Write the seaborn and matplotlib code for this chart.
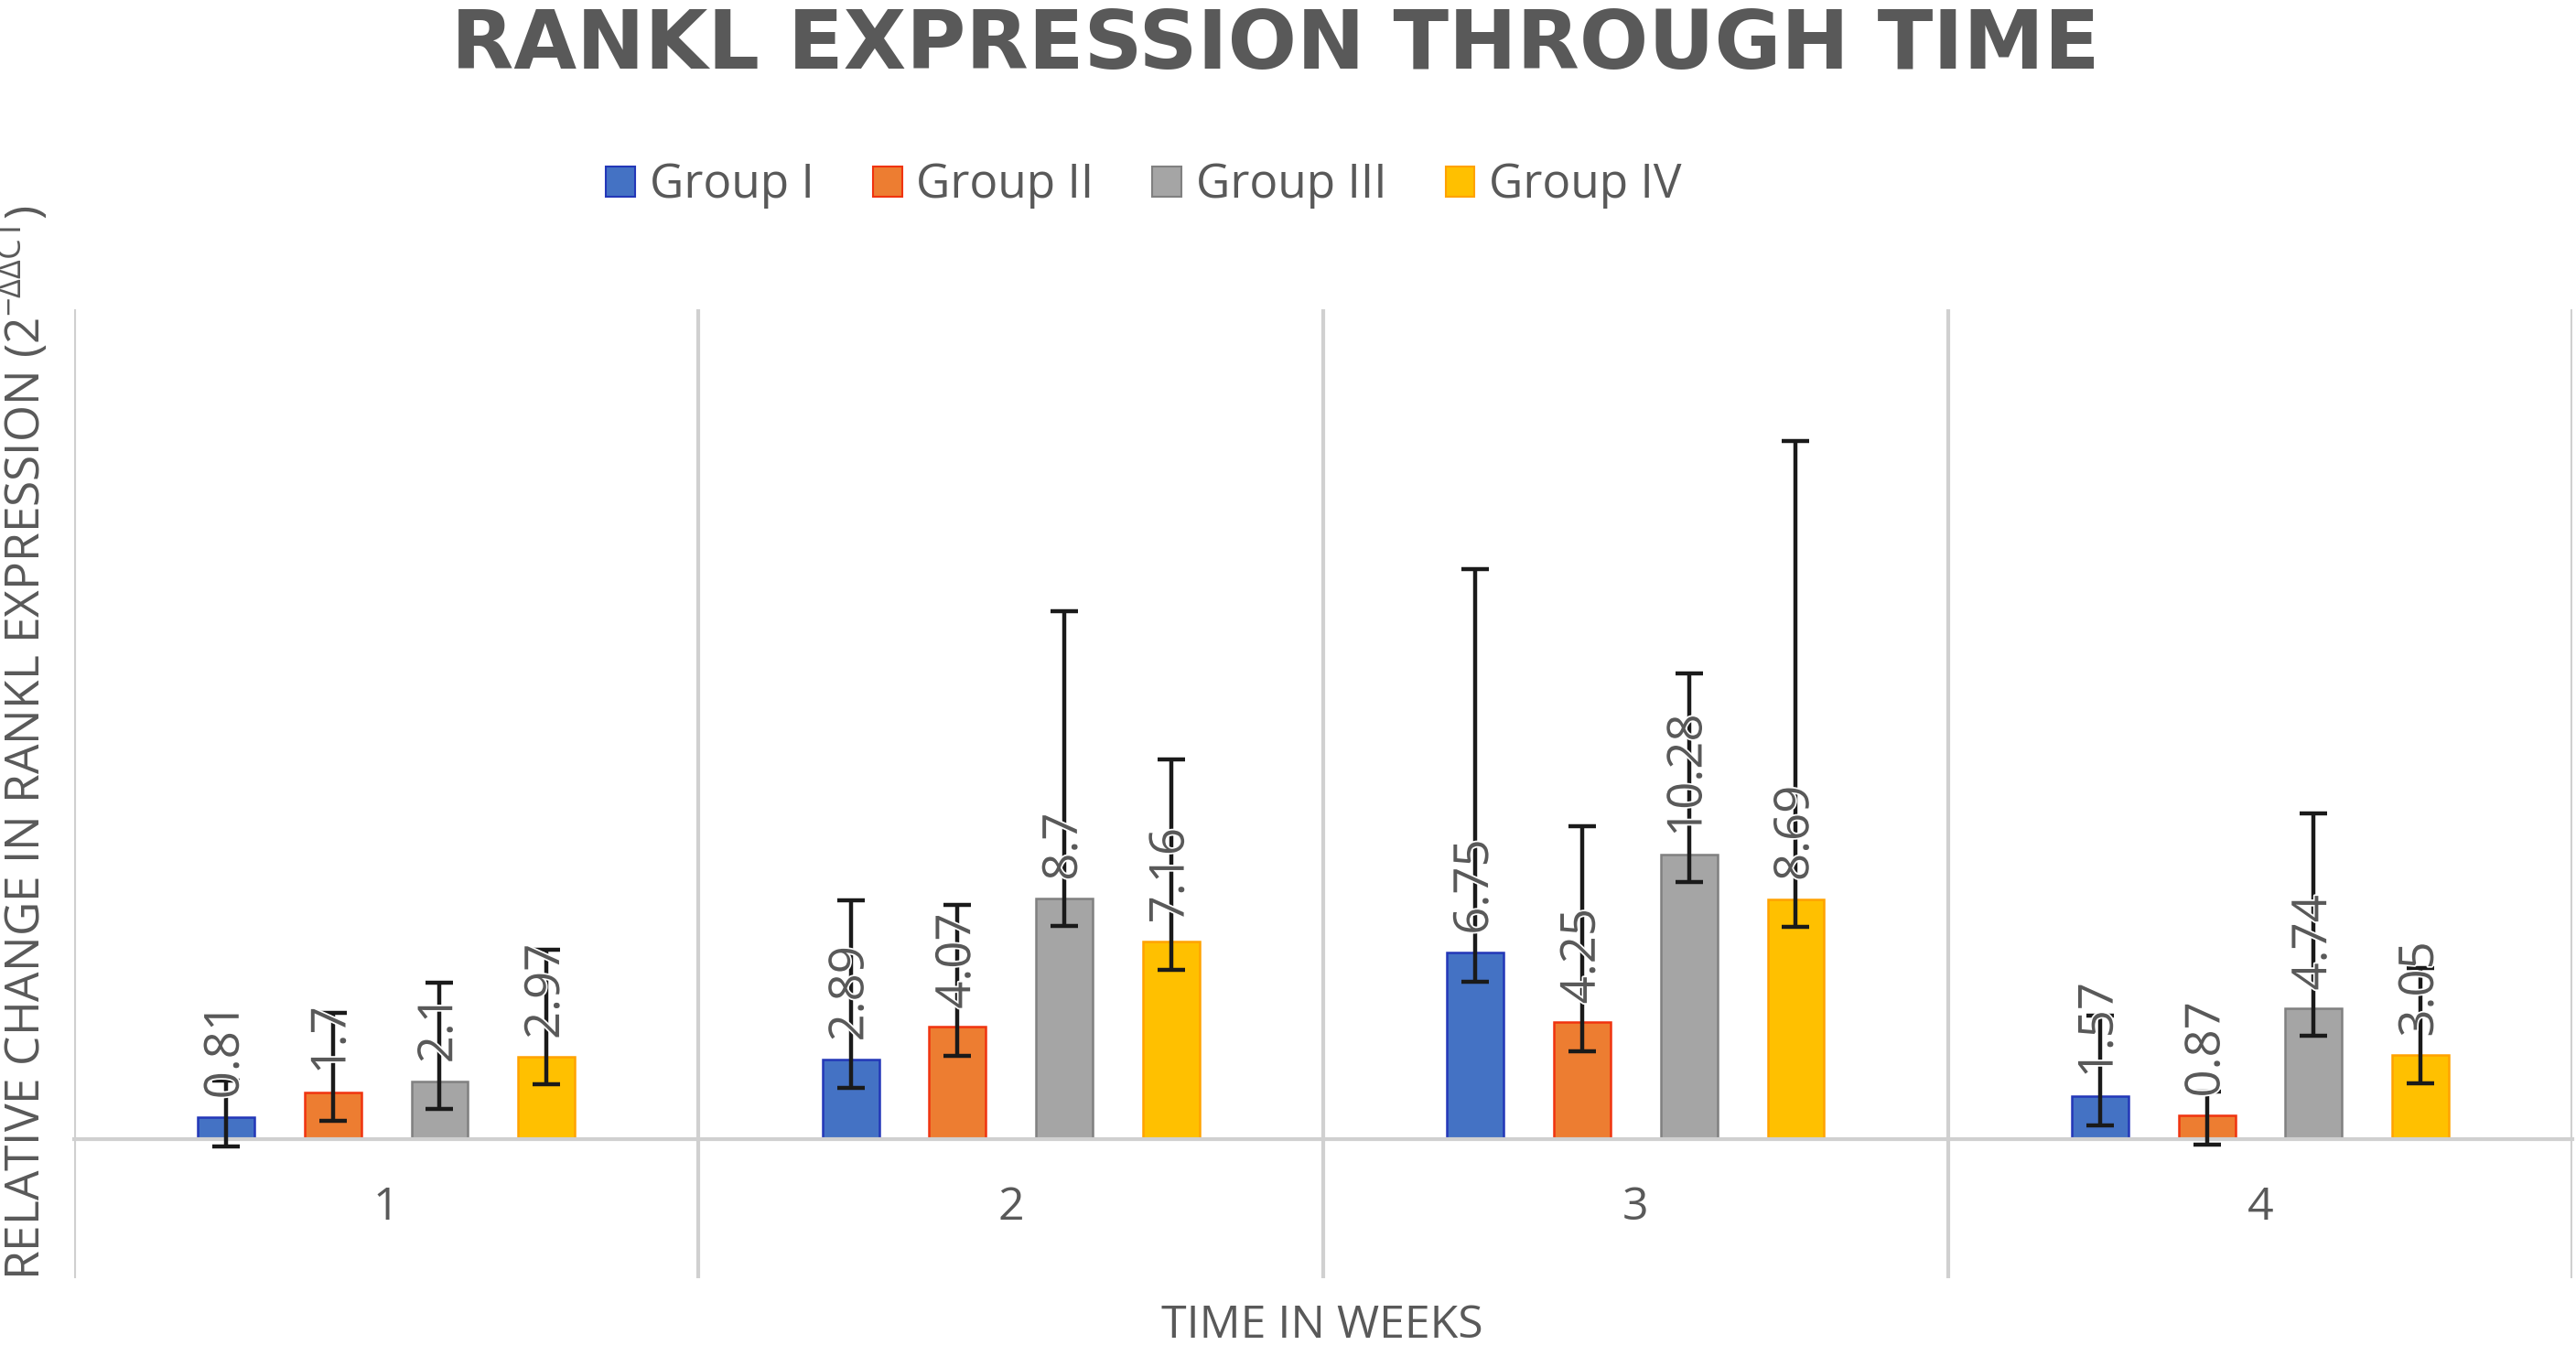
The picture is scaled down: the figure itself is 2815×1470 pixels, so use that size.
import matplotlib
matplotlib.use("Agg")
import matplotlib.pyplot as plt
import matplotlib.patheffects as pe
from matplotlib.patches import Patch
import numpy as np
import pandas as pd
import seaborn as sns

weeks = ["1", "2", "3", "4"]
groups = ["Group I", "Group II", "Group III", "Group IV"]

# mean relative change per group, weeks 1..4
group_i = [0.81, 2.89, 6.75, 1.57]
group_ii = [1.7, 4.07, 4.25, 0.87]
group_iii = [2.1, 8.7, 10.28, 4.74]
group_iv = [2.97, 7.16, 8.69, 3.05]

# error bars as drawn on the chart (below / above the mean)
err_minus_i = [1.05, 1.04, 1.06, 1.05]
err_plus_i = [1.3, 5.76, 13.85, 2.9]
err_minus_ii = [1.04, 1.06, 1.06, 1.06]
err_plus_ii = [2.86, 4.4, 7.08, 0.86]
err_minus_iii = [1.0, 1.0, 0.99, 0.99]
err_plus_iii = [3.55, 10.4, 6.56, 7.03]
err_minus_iv = [0.97, 1.03, 1.02, 1.03]
err_plus_iv = [3.9, 6.56, 16.55, 3.16]

fill_colors = ["#4472C4", "#ED7D31", "#A5A5A5", "#FFC000"]
edge_colors = ["#2337B8", "#F0330F", "#808080", "#FFA200"]
text_color = "#595959"
grid_color = "#D0D0D0"

values = [group_i, group_ii, group_iii, group_iv]
err_minus = [err_minus_i, err_minus_ii, err_minus_iii, err_minus_iv]
err_plus = [err_plus_i, err_plus_ii, err_plus_iii, err_plus_iv]

df = pd.DataFrame({
    "week": weeks * len(groups),
    "group": np.repeat(groups, len(weeks)),
    "value": np.concatenate(values),
})

sns.set_style("white")
plt.rcParams["font.family"] = ["Open Sans", "DejaVu Sans"]
plt.rcParams["mathtext.default"] = "regular"

fig = plt.figure(figsize=(28.15, 14.7), dpi=100)
ax = fig.add_axes([0.0287, 0.050, 0.970, 0.720])

sns.barplot(data=df, x="week", y="value", hue="group", order=weeks,
            hue_order=groups, palette=fill_colors, saturation=1,
            width=0.684, gap=0.47, errorbar=None, linewidth=1.8,
            legend=False, ax=ax)

for cont, ec, vals, lo, hi in zip(ax.containers, edge_colors, values,
                                  err_minus, err_plus):
    xs = []
    for bar in cont:
        bar.set_edgecolor(ec)
        xs.append(bar.get_x() + bar.get_width() / 2)
    ax.errorbar(xs, vals, yerr=[lo, hi], fmt="none", ecolor="#1a1a1a",
                elinewidth=3.2, capsize=10.5, capthick=3.2, zorder=3)
    for x, v in zip(xs, vals):
        ax.annotate(f"{v:g}", (x, v), xytext=(0, 14),
                    textcoords="offset points", rotation=90,
                    ha="center", va="bottom", fontsize=38,
                    color=text_color, zorder=4,
                    path_effects=[pe.withStroke(linewidth=2.5,
                                                foreground="white")])

ax.set_xlim(-0.5, 3.5)
ax.set_ylim(-5, 30)
ax.set_yticks([])
ax.set_xticks(np.arange(-0.5, len(weeks), 1), minor=True)
ax.grid(which="minor", axis="x", color=grid_color, linewidth=3)
ax.tick_params(axis="x", which="both", length=0, pad=36, labelsize=36,
               labelcolor=text_color)
for side in ["top", "left", "right"]:
    ax.spines[side].set_visible(False)
ax.spines["bottom"].set_position(("data", 0))
ax.spines["bottom"].set_color(grid_color)
ax.spines["bottom"].set_linewidth(3)
ax.set_xlabel("")
ax.set_ylabel("")

handles = [Patch(facecolor=fc, edgecolor=ec, linewidth=1.5)
           for fc, ec in zip(fill_colors, edge_colors)]
fig.legend(handles, groups, loc="center", bbox_to_anchor=(0.444, 0.862),
           ncol=4, frameon=False, fontsize=37, handlelength=0.62,
           handleheight=0.62, handletextpad=0.3, columnspacing=1.25,
           labelcolor=text_color)

fig.text(0.4952, 0.949, "RANKL EXPRESSION THROUGH TIME", ha="center",
         va="baseline", fontsize=64, fontweight="bold", color=text_color,
         family="DejaVu Sans")
fig.text(0.5134, 0.014, "TIME IN WEEKS", ha="center", va="center",
         fontsize=36, color=text_color)
fig.text(0.0096, 0.448,
         r"RELATIVE CHANGE IN RANKL EXPRESSION (2$^{-\Delta\Delta CT}$)",
         ha="center", va="center", rotation=90, fontsize=37,
         color=text_color)

fig.savefig("out.png", dpi=100)
